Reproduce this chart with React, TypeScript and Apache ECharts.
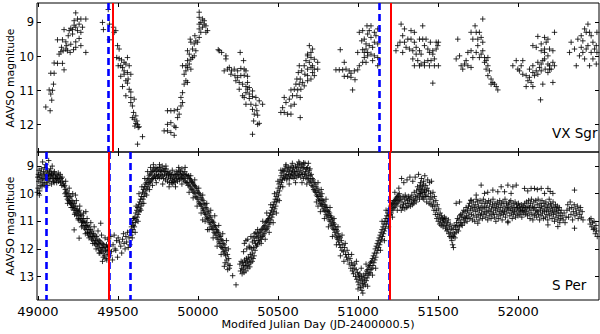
import React, { useEffect, useRef } from 'react';
import * as echarts from 'echarts';

// ---- axis settings ----
const xMin = 48995;
const xMax = 52505;
const xTicks = [49000, 49500, 50000, 50500, 51000, 51500, 52000];
const xFirstLabel = xTicks[0];
const xOtherLabels = xTicks.slice(1);
const vxTicks = [9, 10, 11, 12];
const sPerTicks = [9, 10, 11, 12, 13];
const vxRange = [8.43, 12.8];
const sPerRange = [8.49, 13.85];

// ---- vertical marker lines (MJD) ----
const vxSgrBlue = [49442, 51135];
const vxSgrRed = [49469, 51202];
const sPerBlue = [49050, 49446, 49577, 51195];
const sPerRed = [49440, 51198];

// ---- VX Sgr observations [MJD, mag] ----
const vxSgrA = [[49050,11.48],[49077,11.59],[49087,11.28],[49081,11.1],[49071,10.98],[49092,10.99],[49098,10.81],[49081,10.49],[49102,10.49],[49102,10.19],[49123,10.2],[49154,10.2],[49164,10.39],[49133,9.93],[49144,9.86],[49158,9.83],[49175,9.78],[49185,9.83],[49202,9.88],[49223,9.8],[49237,9.73],[49269,9.68],[49300,9.88],[49123,9.51],[49154,9.51],[49175,9.57],[49190,9.39],[49164,9.21],[49196,9.24],[49217,9.21],[49237,9.14],[49248,9.24],[49269,9.29],[49279,9.14],[49258,9.05],[49227,8.95],[49248,8.9],[49269,8.9],[49300,8.9],[49237,8.72],[49206,9.64],[49237,9.57],[49258,9.47],[49217,9.34],[49181,9.68],[49148,9.73],[49227,9.08],[49206,9.17]];
const vxSgrB = [[49404,9.0],[49410,9.21],[49440,8.62],[49448,9.05],[49448,9.51],[49473,9.14],[49487,9.24],[49477,9.29],[49498,9.68],[49508,9.78],[49493,10.03],[49508,10.06],[49523,10.1],[49539,10.17],[49560,10.03],[49502,10.27],[49518,10.27],[49529,10.32],[49539,10.42],[49550,10.22],[49571,10.27],[49518,10.58],[49539,10.52],[49560,10.47],[49581,10.52],[49550,10.71],[49560,10.78],[49529,10.88],[49571,10.96],[49581,11.04],[49550,11.15],[49581,11.2],[49602,11.25],[49581,11.35],[49591,11.45],[49598,11.64],[49612,11.74],[49602,11.84],[49619,11.89],[49623,11.99],[49633,12.06],[49612,11.96],[49654,12.35],[49623,12.57],[49591,11.79],[49606,12.04],[49627,12.08],[49564,10.66]];
const vxSgrC = [[49789,12.18],[49810,12.18],[49831,12.23],[49852,12.31],[49810,11.99],[49831,11.94],[49852,12.04],[49862,12.08],[49810,11.59],[49831,11.59],[49852,11.59],[49873,11.55],[49873,11.79],[49883,11.69],[49894,11.45],[49904,11.35],[49894,11.2],[49904,11.06],[49914,10.81],[49925,10.71],[49935,10.76],[49914,10.52],[49925,10.42],[49935,10.32],[49904,10.27],[49925,10.27],[49946,10.22],[49956,10.37],[49935,10.12],[49956,10.08],[49966,10.03],[49946,9.93],[49935,9.83],[49977,9.98],[49987,9.83],[49977,9.63],[49998,9.58],[49956,9.58],[50008,9.44],[49987,9.54],[50008,9.19],[50018,9.29],[50029,9.14],[50008,9.05],[50018,9.0],[50039,9.05],[50050,9.1],[50039,8.95],[50029,8.9],[50008,8.85],[50008,8.7],[50060,9.24],[50050,9.29],[50133,9.83],[49966,9.78],[49952,9.49],[49981,9.39]];
const vxSgrD = [[50127,9.8],[50148,9.88],[50175,9.98],[50175,10.07],[50264,9.88],[50285,10.12],[50164,10.42],[50185,10.37],[50196,10.32],[50210,10.42],[50227,10.37],[50248,10.42],[50268,10.35],[50289,10.37],[50300,10.42],[50206,10.52],[50231,10.56],[50248,10.61],[50268,10.56],[50289,10.55],[50310,10.58],[50237,10.71],[50258,10.76],[50279,10.81],[50300,10.88],[50310,10.96],[50321,10.91],[50300,11.06],[50321,11.1],[50341,11.01],[50289,11.2],[50321,11.23],[50341,11.17],[50362,11.2],[50383,11.3],[50300,11.4],[50331,11.4],[50362,11.43],[50404,11.4],[50341,11.55],[50368,11.59],[50352,11.69],[50373,11.72],[50348,11.89],[50373,11.99],[50383,11.96],[50341,12.28],[50310,10.76],[50258,10.96],[50279,11.15]];
const vxSgrE = [[50518,11.64],[50539,11.64],[50560,11.69],[50581,11.69],[50529,11.5],[50550,11.35],[50539,11.2],[50571,11.25],[50581,11.45],[50602,11.4],[50591,11.15],[50618,11.15],[50581,10.98],[50602,10.96],[50623,10.98],[50643,10.96],[50639,11.2],[50612,10.81],[50633,10.81],[50654,10.76],[50618,10.66],[50639,10.66],[50627,10.47],[50648,10.42],[50668,10.52],[50685,10.56],[50664,10.27],[50685,10.37],[50706,10.32],[50727,10.37],[50748,10.37],[50675,10.12],[50696,10.17],[50716,10.27],[50706,10.03],[50727,10.08],[50685,9.93],[50706,9.88],[50716,9.78],[50696,9.68],[50685,9.98],[50633,10.27],[50748,10.17],[50639,11.79],[50664,10.86],[50685,10.71],[50706,10.66],[50727,10.56],[50716,10.47]];
const vxSgrF = [[50889,9.8],[50914,10.17],[50862,10.39],[50883,10.39],[50904,10.39],[50925,10.37],[50945,10.42],[50956,10.49],[50977,10.42],[50998,10.39],[51008,10.27],[51029,10.17],[50914,10.58],[50935,10.58],[50956,10.61],[50981,10.68],[50966,10.98],[50998,9.88],[51029,9.8],[51039,9.88],[51060,9.88],[51050,9.78],[51070,9.68],[51091,9.73],[51081,9.93],[51060,9.98],[51039,10.03],[51102,9.98],[51123,10.03],[51123,10.27],[51091,10.12],[51050,10.17],[51008,9.29],[51029,9.24],[51056,9.1],[51081,9.1],[51102,9.29],[51112,9.39],[51060,9.34],[51039,9.49],[51023,9.54],[51102,9.58],[51123,9.63],[51081,9.44],[51050,9.63],[51123,9.19],[51070,9.24],[51237,9.83],[51248,9.68],[51262,9.58]];
const vxSgrG = [[51269,9.05],[51290,9.19],[51279,9.39],[51290,9.58],[51300,9.73],[51279,9.88],[51321,9.78],[51342,9.83],[51352,9.29],[51331,9.49],[51352,9.58],[51384,9.49],[51404,9.49],[51425,9.49],[51404,9.1],[51363,9.73],[51384,9.83],[51394,9.93],[51415,9.68],[51436,9.78],[51446,9.88],[51467,9.83],[51488,9.78],[51498,9.68],[51488,9.58],[51467,9.93],[51477,10.07],[51342,10.07],[51373,10.12],[51394,10.22],[51415,10.17],[51436,10.12],[51456,10.12],[51352,10.27],[51384,10.27],[51415,10.27],[51446,10.27],[51477,10.27],[51502,10.27],[51467,10.78],[51502,9.58],[51311,9.49],[51331,9.24],[51363,9.93],[51452,9.58]];
const vxSgrH = [[51623,9.49],[51613,10.07],[51634,9.98],[51644,10.27],[51654,10.37],[51665,10.22],[51686,10.27],[51706,10.32],[51717,10.03],[51686,9.88],[51706,9.83],[51738,9.88],[51769,9.93],[51748,9.68],[51779,9.83],[51738,9.29],[51758,9.29],[51769,9.44],[51748,9.49],[51731,9.1],[51779,8.9],[51706,9.29],[51717,9.49],[51790,10.03],[51800,10.12],[51790,10.17],[51811,10.27],[51800,10.37],[51821,10.42],[51811,10.56],[51831,10.66],[51842,10.76],[51852,10.81],[51831,10.81],[51863,10.88],[51873,10.98],[51779,9.58],[51758,10.03],[51675,10.12],[51811,10.03]];
const vxSgrI = [[51967,10.27],[51988,10.12],[51998,10.37],[52019,10.27],[52029,10.12],[52008,10.42],[52029,10.52],[52050,10.56],[52071,10.61],[52081,10.76],[52061,10.71],[52092,10.88],[52050,10.88],[52071,10.37],[52092,10.47],[52102,10.56],[52113,10.42],[52133,10.32],[52144,10.22],[52154,10.12],[52165,10.07],[52186,10.22],[52196,10.27],[52206,10.37],[52217,10.17],[52227,10.27],[52186,9.98],[52165,9.88],[52144,9.83],[52165,9.78],[52196,9.78],[52217,9.83],[52175,9.58],[52186,9.49],[52165,9.44],[52123,9.41],[52144,9.63],[52113,9.73],[52092,9.68],[52227,9.29],[52123,10.17],[52144,10.42],[52169,10.37],[52196,10.37],[52140,11.27],[52217,10.76],[52154,10.81],[52186,10.47],[52123,10.52],[52092,10.27]];
const vxSgrJ = [[52321,9.88],[52331,9.58],[52352,9.78],[52363,10.27],[52373,9.49],[52394,9.39],[52404,9.54],[52383,9.98],[52404,9.88],[52415,10.07],[52425,9.78],[52436,9.68],[52415,9.19],[52436,9.05],[52425,9.29],[52446,9.29],[52456,9.39],[52467,9.58],[52456,9.88],[52467,10.07],[52477,9.78],[52488,9.68],[52492,9.88],[52492,9.29],[52446,10.27],[52488,10.22],[52394,9.73]];

// ---- S Per observations [MJD, mag] ----
const sPerMax1 = [[48997,9.95],[49000,9.4],[49002,9.8],[49004,9.3],[49006,9.55],[49008,9.15],[49010,10.05],[49012,9.4],[49015,9.7],[49018,9.25],[49020,9.5],[49022,9.1],[49025,9.35],[49028,9.6],[49030,8.85],[49032,9.45],[49035,9.2],[49038,9.65],[49040,9.3],[49043,9.05],[49045,9.5],[49048,9.4],[49050,8.95],[49052,9.25],[49055,9.6],[49058,9.35],[49060,9.15],[49063,9.5],[49066,9.3],[49068,8.8],[49070,9.45],[49073,9.2],[49076,9.55],[49078,9.35],[49080,9.1],[49083,9.4],[49086,9.65],[49088,9.3],[49090,9.0],[49093,9.45],[49096,9.25],[49098,9.55],[49100,9.35],[49104,9.2],[49108,9.5],[49110,9.4],[49114,9.3],[49118,9.6],[49122,9.45],[49126,9.35],[49130,9.55],[49134,9.5],[49138,9.4],[49142,9.6],[49146,9.45],[49150,9.7],[49155,9.55],[49160,9.65],[49165,9.75],[49012,9.9],[49026,9.75],[49045,9.7],[49062,9.7],[49085,9.25],[49102,9.6],[49116,9.45],[49128,9.25],[49140,9.3],[49152,9.4]];
const sPerDecline1 = [[49168,9.7],[49170,10.0],[49172,9.85],[49176,9.95],[49178,10.1],[49182,9.9],[49185,10.2],[49188,10.05],[49192,10.25],[49195,10.0],[49198,10.3],[49200,10.15],[49204,10.35],[49207,10.1],[49210,10.4],[49213,10.25],[49216,10.5],[49219,10.3],[49222,10.45],[49225,10.6],[49228,10.35],[49231,10.55],[49234,10.7],[49237,10.45],[49240,10.6],[49243,10.8],[49246,10.55],[49249,10.7],[49252,10.9],[49255,10.65],[49258,10.8],[49261,10.6],[49264,10.95],[49267,10.75],[49270,10.9],[49273,11.05],[49276,10.8],[49279,11.0],[49282,11.15],[49285,10.9],[49288,11.05],[49291,11.25],[49294,11.0],[49297,11.15],[49300,11.3],[49303,11.05],[49306,11.2],[49309,11.4],[49312,11.15],[49315,11.3],[49318,11.5],[49321,11.2],[49324,11.4],[49327,11.55],[49330,11.3],[49333,11.45],[49336,11.65],[49339,11.35],[49342,11.55],[49345,11.7],[49348,11.45],[49351,11.6],[49354,11.8],[49357,11.5],[49360,11.7],[49363,11.85],[49366,11.55],[49369,11.75],[49372,11.9],[49375,11.65],[49378,11.8],[49381,12.0],[49384,11.7],[49387,11.85],[49390,12.05],[49393,11.75],[49396,11.95],[49399,12.1],[49402,11.8],[49405,11.95],[49408,12.15],[49411,11.85],[49414,12.0],[49417,12.25],[49420,11.9],[49423,12.05],[49426,12.35],[49429,11.85],[49432,12.1],[49435,11.95],[49438,12.2],[49441,11.9],[49444,12.05],[49227,11.31],[49258,11.61],[49300,10.65],[49393,11.07],[49383,12.15],[49404,12.45],[49310,11.43],[49235,10.05]];
const sPerMin1 = [[49448,11.9],[49452,12.25],[49456,11.55],[49460,12.1],[49466,12.4],[49470,11.85],[49477,11.5],[49482,12.0],[49487,12.05],[49492,11.7],[49498,12.3],[49502,11.6],[49510,11.75],[49518,11.9],[49524,12.15],[49529,11.65],[49535,11.45],[49539,11.8],[49545,12.0],[49550,11.55],[49555,11.75],[49560,11.4],[49565,11.95],[49570,11.6],[49575,11.85],[49578,11.35]];
const sPerMax2 = [[49582,11.5],[49585,11.2],[49588,11.4],[49591,11.05],[49594,11.3],[49597,11.15],[49600,10.9],[49603,11.2],[49606,10.85],[49609,11.05],[49612,10.7],[49615,10.95],[49618,10.6],[49621,10.85],[49624,10.5],[49627,10.75],[49630,10.4],[49633,10.65],[49636,10.3],[49639,10.55],[49642,10.2],[49645,10.45],[49648,10.1],[49651,10.35],[49654,9.95],[49657,10.2],[49660,9.85],[49663,10.1],[49666,9.75],[49669,10.0],[49672,9.65],[49675,9.9],[49678,9.6],[49681,9.8],[49684,9.5],[49687,9.75],[49690,9.45],[49693,9.65],[49696,9.35],[49699,9.6],[49702,9.3],[49705,9.55],[49708,9.25],[49711,9.5],[49714,9.2],[49717,9.45],[49720,9.15],[49723,9.4],[49726,9.1],[49729,9.35],[49732,9.2],[49735,9.45],[49738,9.05],[49741,9.3],[49744,9.15],[49747,9.4],[49750,9.1],[49753,9.35],[49756,9.2],[49759,9.45],[49762,9.05],[49765,9.3],[49768,9.15],[49771,9.4],[49774,9.2],[49777,9.0],[49780,9.35],[49783,9.15],[49786,9.45],[49789,9.1],[49792,9.3],[49795,9.2],[49798,9.5],[49801,9.1],[49804,9.35],[49807,9.25],[49810,9.55],[49813,9.2],[49816,9.4],[49819,9.3],[49822,9.6],[49825,9.25],[49828,9.45],[49831,9.35],[49834,9.6],[49837,9.3],[49840,9.5],[49843,9.65],[49846,9.4],[49849,9.55],[49852,9.3],[49855,9.5],[49858,9.6],[49861,9.35],[49864,9.2],[49867,9.45],[49870,9.3],[49873,9.55],[49876,9.25],[49879,9.4],[49882,9.15],[49885,9.5],[49888,9.3],[49891,9.2],[49894,9.45],[49897,9.35],[49900,9.1],[49903,9.4],[49906,9.25],[49909,9.5],[49912,9.3],[49915,9.45],[49918,9.2],[49921,9.55],[49924,9.35],[49927,9.6]];
const sPerDecline2 = [[49930,9.3],[49933,9.6],[49936,9.4],[49939,9.7],[49942,9.35],[49945,9.65],[49948,9.45],[49951,9.75],[49954,9.5],[49957,9.8],[49960,9.55],[49963,9.85],[49966,9.6],[49969,9.9],[49972,9.65],[49975,9.95],[49978,9.7],[49981,10.0],[49984,9.75],[49987,10.1],[49990,9.8],[49993,10.15],[49996,9.9],[49999,10.2],[50002,9.95],[50005,10.3],[50008,10.0],[50011,10.35],[50014,10.05],[50017,10.4],[50020,10.15],[50023,10.45],[50026,10.2],[50029,10.55],[50032,10.25],[50035,10.6],[50038,10.35],[50041,10.7],[50044,10.4],[50047,10.75],[50050,10.5],[50053,10.85],[50056,10.55],[50059,10.9],[50062,10.65],[50065,10.95],[50068,10.7],[50071,11.05],[50074,10.8],[50077,11.1],[50080,10.85],[50083,11.2],[50086,10.95],[50089,11.25],[50092,11.0],[50095,11.3],[50098,11.05],[50101,11.4],[50104,11.15],[50107,11.45],[50110,11.2],[50113,11.5],[50116,11.3],[50119,11.6],[50122,11.35],[50125,11.65],[50128,11.4],[50131,11.75],[50134,11.5],[50137,11.8],[50140,11.55],[50143,11.9],[50146,11.65],[50149,11.95],[50152,11.7],[50155,12.0],[50158,11.8],[50161,12.1],[50164,11.85],[50167,12.15],[50170,11.95],[50173,12.25],[50176,12.05],[50180,12.4],[50184,12.2],[50188,12.55],[50192,12.35],[50196,12.7],[50217,12.97],[50238,13.3],[50165,12.63],[50186,12.75],[50060,11.3],[50030,10.95]];
const sPerMin2 = [[50262,12.55],[50266,12.8],[50270,12.45],[50273,12.7],[50276,12.9],[50279,12.5],[50282,12.75],[50285,12.6],[50288,12.85],[50291,12.4],[50294,12.65],[50297,12.5],[50300,12.8],[50303,12.35],[50306,12.6],[50309,12.45],[50312,12.7],[50315,12.3],[50318,12.55],[50321,12.4],[50324,12.65],[50327,12.2],[50330,12.5],[50333,12.3],[50336,12.0],[50339,12.45],[50342,12.15],[50345,12.35],[50348,11.95],[50351,12.25],[50290,11.8],[50300,11.7],[50311,11.65],[50320,11.9],[50331,11.55],[50340,11.75],[50352,11.45],[50362,11.4],[50373,11.3],[50285,12.1],[50305,12.0],[50325,11.95],[50345,11.6]];
const sPerMax3 = [[50354,11.7],[50357,12.05],[50360,11.8],[50363,11.55],[50366,11.9],[50369,11.6],[50372,11.85],[50375,11.45],[50378,11.7],[50381,11.5],[50384,11.75],[50387,11.35],[50390,11.6],[50393,11.4],[50396,11.65],[50399,11.3],[50402,11.55],[50405,11.25],[50408,11.5],[50411,11.2],[50414,11.45],[50417,11.15],[50420,11.35],[50423,11.05],[50426,11.3],[50429,11.0],[50432,11.25],[50435,10.95],[50438,11.2],[50441,10.9],[50444,11.1],[50447,10.8],[50450,11.05],[50453,10.7],[50456,10.95],[50459,10.6],[50462,10.85],[50465,10.5],[50468,10.75],[50471,10.4],[50474,10.65],[50477,10.3],[50480,10.55],[50483,10.2],[50486,10.45],[50489,10.1],[50492,10.3],[50495,9.95],[50498,10.2],[50501,9.8],[50504,10.05],[50507,9.65],[50510,9.9],[50513,9.5],[50516,9.75],[50519,9.35],[50522,9.6],[50525,9.25],[50528,9.5],[50531,9.15],[50534,9.4],[50537,9.2],[50540,9.45],[50543,9.1],[50546,9.35],[50549,9.0],[50552,9.3],[50555,9.5],[50558,9.15],[50561,9.4],[50564,9.05],[50567,9.3],[50570,9.2],[50573,9.45],[50576,9.1],[50579,9.35],[50582,9.0],[50585,9.25],[50588,9.4],[50591,9.15],[50594,9.3],[50597,9.05],[50600,9.45],[50603,9.2],[50606,9.35],[50609,9.0],[50612,9.25],[50615,9.1],[50618,9.4],[50621,8.95],[50624,9.2],[50627,9.35],[50630,9.05],[50633,9.3],[50636,8.9],[50639,9.15],[50642,9.4],[50645,9.0],[50648,9.25],[50651,8.95],[50654,9.3],[50657,9.1],[50660,9.45],[50663,9.05],[50666,9.3],[50669,8.9],[50672,9.2],[50675,9.4],[50678,9.1],[50681,9.35],[50684,9.05],[50687,9.5],[50690,9.25],[50693,9.45],[50696,9.15],[50699,9.6],[50702,9.35],[50705,9.55],[50708,9.3],[50711,9.7],[50714,9.45],[50717,9.75],[50720,9.5],[50723,9.85],[50726,9.6],[50729,9.9],[50630,8.85],[50660,8.88],[50690,8.9]];
const sPerDecline3 = [[50732,9.65],[50735,9.95],[50738,9.75],[50741,10.05],[50744,9.8],[50747,10.1],[50750,9.9],[50753,10.2],[50756,9.95],[50759,10.25],[50762,10.05],[50765,10.35],[50768,10.1],[50771,10.4],[50774,10.2],[50777,10.45],[50780,10.25],[50783,10.55],[50786,10.3],[50789,10.6],[50792,10.4],[50795,10.65],[50798,10.45],[50801,10.75],[50804,10.5],[50807,10.8],[50810,10.6],[50813,10.85],[50816,10.65],[50819,10.95],[50822,10.7],[50825,11.0],[50828,10.8],[50831,11.1],[50834,10.85],[50837,11.15],[50840,10.95],[50843,11.25],[50846,11.05],[50849,11.3],[50852,11.1],[50855,11.4],[50858,11.2],[50861,11.5],[50864,11.3],[50867,11.6],[50870,11.35],[50873,11.65],[50876,11.45],[50879,11.75],[50882,11.55],[50885,11.85],[50888,11.6],[50892,11.95],[50896,11.7],[50900,12.05],[50905,11.85],[50910,12.1],[50916,11.95],[50922,12.2],[50750,10.45],[50770,9.85]];
const sPerMin3 = [[50928,12.3],[50932,12.05],[50936,12.4],[50940,12.2],[50945,12.55],[50950,12.35],[50955,12.7],[50960,12.5],[50965,12.8],[50968,12.6],[50972,12.9],[50976,12.7],[50980,12.55],[50984,13.0],[50988,12.75],[50992,13.1],[50996,12.85],[51000,13.2],[51003,12.95],[51006,13.3],[51009,13.05],[51012,12.9],[51015,13.4],[51018,13.15],[51021,13.0],[51024,13.5],[51027,13.25],[51030,13.1],[51033,13.35],[51036,12.95],[51039,13.2],[51042,13.05],[51045,13.3],[51048,12.9],[51051,13.15],[51054,12.8],[51057,13.05],[51060,12.75],[51063,12.95],[51066,12.65],[51069,12.9],[51072,12.6],[51075,12.85],[51078,12.5],[51081,12.75],[51084,12.45],[51087,12.7],[51090,12.35],[51093,12.6],[51096,12.25],[51099,12.5],[51102,12.15],[51105,12.4],[51108,12.0],[51111,12.3],[51114,11.9],[51117,12.15],[51120,11.8],[51123,12.05],[51126,11.7],[51129,11.95]];
const sPerRise4 = [[51132,11.6],[51135,11.85],[51138,11.5],[51141,11.75],[51144,11.4],[51147,11.65],[51150,11.3],[51153,11.55],[51156,11.2],[51159,11.45],[51162,11.1],[51165,11.35],[51168,11.0],[51171,11.25],[51174,10.9],[51177,11.1],[51180,10.8],[51183,11.0],[51186,10.7],[51189,10.9],[51192,10.6],[51195,10.8],[51198,10.55],[51201,10.75],[51204,10.45],[51207,10.7],[51210,10.4],[51213,10.6],[51216,10.35],[51219,10.55],[51222,10.3],[51225,10.5],[51228,10.25],[51231,10.45],[51234,10.2],[51237,10.4],[51240,10.15],[51243,10.35],[51246,10.1],[51249,10.3],[51252,10.05],[51255,10.25],[51258,10.0],[51261,10.2]];
const sPerLate1 = [[51264,10.45],[51267,10.15],[51270,10.6],[51272,9.45],[51275,10.3],[51278,10.5],[51281,10.1],[51284,10.4],[51286,9.6],[51289,10.2],[51292,10.55],[51295,10.05],[51298,10.35],[51301,10.15],[51304,10.5],[51306,9.5],[51309,10.25],[51312,10.45],[51315,10.1],[51318,10.35],[51321,10.2],[51324,9.4],[51327,10.45],[51330,10.15],[51333,10.3],[51336,10.05],[51339,10.4],[51342,9.55],[51345,10.2],[51348,10.35],[51351,9.95],[51354,10.25],[51357,9.4],[51360,10.1],[51363,10.3],[51366,9.9],[51369,10.15],[51372,9.75],[51375,10.05],[51378,9.3],[51381,9.85],[51384,10.2],[51387,9.7],[51390,10.0],[51393,9.8],[51396,9.45],[51399,10.1],[51402,9.75],[51405,9.95],[51408,9.65],[51411,10.2],[51414,9.85],[51417,9.35],[51420,10.05],[51423,9.7],[51426,9.9],[51429,10.3],[51432,9.8],[51435,9.5],[51438,10.1],[51441,9.9],[51444,10.35],[51447,9.6],[51450,10.2],[51453,10.0],[51456,10.4],[51459,9.55],[51462,10.15],[51465,10.45],[51468,9.95],[51471,10.3],[51474,10.6],[51477,10.1],[51480,10.45],[51483,10.75],[51486,10.25],[51489,10.6],[51492,10.9],[51495,10.4],[51498,10.75],[51501,11.0],[51504,10.55],[51507,10.85],[51510,11.1],[51513,10.7],[51516,10.95],[51519,11.15],[51522,10.8],[51525,11.05],[51528,10.9],[51531,11.2],[51534,10.95],[51537,11.1],[51540,10.85],[51385,10.0],[51395,9.9],[51405,10.15],[51415,9.95],[51425,10.1],[51390,9.6],[51410,9.55]];
const sPerLate2 = [[51543,11.0],[51546,11.25],[51549,10.9],[51552,11.15],[51555,11.35],[51558,11.05],[51561,11.3],[51564,10.95],[51567,11.45],[51570,11.2],[51573,11.55],[51576,11.1],[51579,11.4],[51582,11.6],[51585,11.25],[51588,11.5],[51591,11.85],[51594,11.3],[51597,11.55],[51600,11.15],[51603,11.45],[51606,11.6],[51609,11.2],[51612,11.4],[51615,11.05],[51618,11.3],[51621,10.9],[51624,11.15],[51627,11.35],[51630,10.95],[51633,11.2],[51636,10.8],[51639,11.05],[51642,10.75],[51645,11.1],[51648,10.85],[51651,11.15],[51654,10.7],[51657,10.95],[51660,10.6],[51663,10.85],[51666,11.05],[51669,10.65],[51672,10.9],[51675,10.5],[51678,10.8],[51681,11.0],[51684,10.6],[51687,10.85],[51690,10.45],[51596,11.95],[51586,11.7],[51613,10.35],[51634,10.3]];
const sPerLate3 = [[51693,10.7],[51696,10.35],[51699,10.9],[51702,10.55],[51705,10.25],[51708,10.75],[51711,10.45],[51714,10.95],[51717,10.6],[51720,10.3],[51723,10.8],[51726,10.5],[51729,11.0],[51732,10.4],[51735,10.65],[51738,10.2],[51741,10.85],[51744,10.55],[51747,10.3],[51750,10.75],[51753,10.45],[51756,10.95],[51759,10.6],[51762,10.25],[51765,10.8],[51768,10.5],[51771,10.7],[51774,10.35],[51777,10.9],[51780,10.55],[51783,10.2],[51786,10.75],[51789,10.45],[51792,10.65],[51795,10.3],[51798,10.85],[51801,10.5],[51804,10.7],[51807,10.35],[51810,10.95],[51813,10.6],[51816,10.25],[51819,10.8],[51822,10.45],[51825,10.65],[51828,10.3],[51831,10.9],[51834,10.55],[51837,10.75],[51840,10.4],[51843,10.2],[51846,10.7],[51849,10.5],[51852,10.85],[51855,10.35],[51858,10.6],[51861,11.0],[51864,10.45],[51867,10.75],[51870,10.3],[51873,10.55],[51876,10.9],[51879,10.4],[51882,10.65],[51885,10.25],[51888,10.8],[51891,10.5],[51894,10.7],[51897,10.35],[51900,10.95],[51903,10.6],[51906,10.3],[51909,10.75],[51912,10.45],[51915,10.65],[51918,10.2],[51921,10.85],[51924,10.55],[51927,10.35],[51930,10.7],[51933,10.5],[51936,11.05],[51939,10.4],[51942,10.6],[51945,10.3],[51948,10.8],[51951,10.55],[51954,10.25],[51957,10.7],[51960,10.45],[51963,10.9],[51966,10.6],[51969,10.35],[51972,10.75],[51975,10.5],[51978,10.65],[51981,10.3],[51984,10.85],[51987,10.55],[51990,10.4],[51993,10.7],[51996,10.5],[51999,10.8],[52002,10.35],[52005,10.6],[52008,10.45],[52011,10.75],[52014,10.55],[52017,10.65],[52020,10.4],[52023,10.85],[52026,10.6],[52029,10.5],[52032,10.7],[52035,10.45],[52038,10.6],[52041,10.35],[52044,10.75],[52047,10.5],[52050,10.65],[52053,10.3],[52056,10.55],[52059,10.8],[52062,10.45],[52065,10.25],[52068,10.7],[52071,10.5],[52074,10.9],[52077,10.35],[52080,10.6],[52083,10.2],[52086,10.75],[52089,10.45],[52092,10.95],[52095,10.55],[52098,10.3],[52101,10.8],[52104,10.5],[52107,10.7],[52110,10.25],[52113,10.6],[52116,10.85],[52119,10.4],[52122,10.65],[52125,10.2],[52128,10.75],[52131,10.5],[52134,10.95],[52137,10.35],[52140,10.6],[52143,10.8],[52146,10.45],[52149,10.25],[52152,10.7],[52155,10.55],[52158,10.9],[52161,10.35],[52164,10.65],[52167,10.45],[52170,10.85],[52173,10.3],[52176,10.6],[52179,10.75],[52182,10.5],[52185,10.95],[52188,10.4],[52191,10.65],[52194,10.2],[52197,10.8],[52200,10.55],[52203,10.35],[52206,10.7],[52209,10.45],[52212,10.9],[52215,10.6],[52218,10.3],[52221,10.75],[52224,10.5],[52227,11.0],[52230,10.65],[52233,10.4],[52236,10.85],[52239,10.55],[52242,10.7],[52245,10.45],[52248,10.95],[52251,10.6],[52254,10.8],[52257,10.5],[52260,11.05],[52263,10.7],[52266,10.9],[52269,10.6],[52275,10.8],[52281,10.95],[52287,10.7],[52293,11.05],[52299,10.85]];
const sPerLate4 = [[52305,10.6],[52310,10.4],[52315,10.85],[52320,10.55],[52325,10.3],[52330,10.75],[52335,10.5],[52340,10.95],[52345,10.65],[52350,10.4],[52355,10.8],[52360,10.55],[52365,10.7],[52370,10.45],[52375,10.9],[52380,10.6],[52385,10.75],[52390,10.5],[52395,10.85],[52400,10.65],[52405,10.95],[52446,10.95],[52450,11.1],[52455,10.9],[52460,11.2],[52465,11.05],[52470,11.3],[52474,11.0],[52478,11.25],[52482,11.45],[52486,11.15],[52490,11.35],[52494,11.55]];
const sPerUpper = [[51769,9.69],[51842,9.87],[51873,9.93],[51894,9.75],[51936,9.69],[51967,9.75],[51988,9.69],[51956,9.99],[52040,9.81],[52081,9.81],[52102,9.81],[52144,9.81],[52186,9.81],[52165,9.99],[52217,9.99],[52352,9.87],[51790,9.99],[51915,9.93],[51706,10.23],[51738,10.05],[51748,11.07],[51936,11.0],[52186,11.13],[52248,11.19],[52352,11.25],[51810,9.95],[52060,9.9],[52120,9.85],[52200,9.92]];
const sPerEdges = [[49174,9.55],[49186,10.35],[49196,9.8],[49208,10.5],[49218,10.0],[49230,10.75],[49241,10.25],[49253,10.95],[49262,10.45],[49274,11.2],[49286,10.7],[49297,11.45],[49308,10.9],[49320,11.6],[49331,11.05],[49343,11.8],[49352,11.2],[49364,12.0],[49376,11.35],[49388,12.15],[49398,11.5],[49409,12.3],[49420,11.6],[49431,12.4],[49437,11.65],[49590,11.6],[49596,10.9],[49608,11.4],[49614,10.45],[49626,11.0],[49632,10.0],[49644,10.6],[49650,9.75],[49662,10.35],[49668,9.45],[49680,10.05],[49686,9.2],[49698,9.85],[49704,9.05],[49716,9.7],[49722,8.95],[49740,9.6],[49760,8.95],[49780,9.65],[49800,9.0],[49820,9.75],[49840,9.15],[49860,9.75],[49880,9.05],[49900,9.65],[49920,9.05],[49945,9.95],[49955,9.35],[49970,10.15],[49980,9.5],[49995,10.45],[50005,9.8],[50020,10.7],[50030,10.05],[50045,11.0],[50055,10.35],[50070,11.3],[50080,10.6],[50095,11.6],[50105,10.8],[50120,11.9],[50130,11.15],[50145,12.2],[50155,11.45],[50170,12.5],[50178,11.7],[50200,12.6],[50190,12.0],[50395,11.8],[50405,11.0],[50420,11.65],[50430,10.7],[50445,11.4],[50455,10.4],[50470,11.05],[50478,10.0],[50490,10.7],[50500,9.55],[50508,10.25],[50518,9.15],[50530,9.75],[50550,8.95],[50570,9.65],[50590,8.9],[50610,9.6],[50650,9.6],[50680,9.65],[50700,9.1],[50740,10.3],[50750,9.6],[50765,10.65],[50775,10.0],[50790,10.9],[50800,10.2],[50815,11.2],[50825,10.5],[50840,11.55],[50850,10.9],[50865,11.85],[50875,11.2],[50890,12.25],[50900,11.5],[50912,12.45],[50920,11.8],[50960,12.2],[50990,12.45],[51020,12.7],[51050,12.55],[51000,13.45],[51030,13.6],[51060,13.35],[51090,12.95],[51110,12.7],[51140,12.05],[51150,11.0],[51165,11.7],[51175,10.6],[51190,11.2],[51200,10.25],[51215,10.85],[51230,9.95],[51245,10.6],[51255,9.8]];

const vxSgrData = [...vxSgrA, ...vxSgrB, ...vxSgrC, ...vxSgrD, ...vxSgrE, ...vxSgrF, ...vxSgrG, ...vxSgrH, ...vxSgrI, ...vxSgrJ];
const sPerData = [...sPerMax1, ...sPerDecline1, ...sPerMin1, ...sPerMax2, ...sPerDecline2, ...sPerMin2, ...sPerMax3, ...sPerDecline3, ...sPerMin3, ...sPerRise4, ...sPerLate1, ...sPerLate2, ...sPerLate3, ...sPerLate4, ...sPerUpper, ...sPerEdges];

const FONT = '"DejaVu Sans", "Liberation Sans", sans-serif';
const PLUS = 'path://M5 0V10M0 5H10';
const Y_TITLE = 'AAVSO magnitude';

// geometry of the plot frames (px)
const G_LEFT = 37;
const G_WIDTH = 562;
const TOP1 = 3;
const H1 = 149;
const TOP2 = 152;
const H2 = 148;
const X_LABEL_MARGIN = 5;

function xAxisCfg(gridIndex: number, position: 'top' | 'bottom', labels: boolean, name?: string) {
  return {
    type: 'value', gridIndex, position, min: xMin, max: xMax,
    axisLine: { show: false },
    splitLine: { show: false },
    axisTick: { show: true, inside: true, length: 4, customValues: xTicks, lineStyle: { color: '#000', width: 1 } },
    axisLabel: { show: labels, customValues: xOtherLabels, fontFamily: FONT, fontSize: 13, color: '#000', margin: X_LABEL_MARGIN,
      formatter: (v: number) => String(v) },
    name: name || '', nameLocation: 'middle', nameGap: 19,
    nameTextStyle: { fontFamily: FONT, fontSize: 11.2, color: '#000', verticalAlign: 'top' },
  };
}

function yAxisCfg(gridIndex: number, position: 'left' | 'right', range: number[], ticks: number[], labels: boolean) {
  return {
    type: 'value', gridIndex, position, inverse: true, min: range[0], max: range[1],
    axisLine: { show: false },
    splitLine: { show: false },
    axisTick: { show: true, inside: true, length: 4, customValues: ticks, lineStyle: { color: '#000', width: 1 } },
    axisLabel: { show: labels, customValues: ticks, fontFamily: FONT, fontSize: 11.5, color: '#000', margin: 3,
      formatter: (v: number) => (Number.isInteger(v) ? String(v) : '') },
  };
}

function vLines(blue: number[], red: number[]) {
  return [
    ...blue.map((v) => ({ xAxis: v, lineStyle: { color: '#0000ff', width: 2.6, type: [7, 4] } })),
    ...red.map((v) => ({ xAxis: v, lineStyle: { color: '#ff0000', width: 2, type: 'solid' } })),
  ];
}

function scatterSeries(idx: number, data: number[][], blue: number[], red: number[]) {
  return {
    type: 'scatter', xAxisIndex: idx * 2, yAxisIndex: idx * 2, data,
    symbol: PLUS, symbolSize: 5.5, silent: true,
    itemStyle: { color: '#000', borderColor: '#000', borderWidth: 0.8, opacity: 1 },
    markLine: {
      silent: true, symbol: ['none', 'none'], label: { show: false }, animation: false,
      data: vLines(blue, red),
    },
  };
}

export default function App() {
  const ref = useRef<HTMLDivElement>(null);
  useEffect(() => {
    const chart = echarts.init(ref.current as HTMLDivElement, null, { renderer: 'svg' });
    chart.setOption({
      animation: false,
      backgroundColor: '#fff',
      grid: [
        { left: G_LEFT, top: TOP1, width: G_WIDTH, height: H1, show: true, borderColor: '#000', borderWidth: 1, backgroundColor: 'transparent', outerBoundsMode: 'none', containLabel: false },
        { left: G_LEFT, top: TOP2, width: G_WIDTH, height: H2, show: true, borderColor: '#000', borderWidth: 1, backgroundColor: 'transparent', outerBoundsMode: 'none', containLabel: false },
      ],
      xAxis: [
        xAxisCfg(0, 'bottom', false),
        xAxisCfg(0, 'top', false),
        xAxisCfg(1, 'bottom', true, 'Modifed Julian Day (JD-2400000.5)'),
        xAxisCfg(1, 'top', false),
      ],
      yAxis: [
        yAxisCfg(0, 'left', vxRange, vxTicks, true),
        yAxisCfg(0, 'right', vxRange, vxTicks, false),
        yAxisCfg(1, 'left', sPerRange, sPerTicks, true),
        yAxisCfg(1, 'right', sPerRange, sPerTicks, false),
      ],
      series: [
        scatterSeries(0, vxSgrData, vxSgrBlue, vxSgrRed),
        scatterSeries(1, sPerData, sPerBlue, sPerRed),
      ],
    });
    // first x tick label, centred on its tick (converted through the axis scale)
    const px = chart.convertToPixel({ xAxisIndex: 2 }, xFirstLabel) as number;
    chart.setOption({
      graphic: [
        { type: 'text', x: px, y: TOP2 + H2 + X_LABEL_MARGIN, style: { text: String(xFirstLabel), fontFamily: FONT, fontSize: 13, fill: '#000', align: 'center', verticalAlign: 'top' } },
        { type: 'text', x: 10.5, y: 78, rotation: Math.PI / 2, style: { text: Y_TITLE, fontFamily: FONT, fontSize: 10.8, fill: '#000', align: 'center', verticalAlign: 'middle' } },
        { type: 'text', x: 10.5, y: 226, rotation: Math.PI / 2, style: { text: Y_TITLE, fontFamily: FONT, fontSize: 10.8, fill: '#000', align: 'center', verticalAlign: 'middle' } },
        { type: 'text', x: 552, y: 133, style: { text: 'VX Sgr', fontFamily: FONT, fontSize: 13.5, fill: '#000', verticalAlign: 'middle' } },
        { type: 'text', x: 552, y: 285, style: { text: 'S Per', fontFamily: FONT, fontSize: 13.5, fill: '#000', verticalAlign: 'middle' } },
      ],
    });
    return () => chart.dispose();
  }, []);
  return <div ref={ref} style={{ position: 'fixed', left: 0, top: 0, width: 600, height: 334, background: '#fff' }} />;
}
